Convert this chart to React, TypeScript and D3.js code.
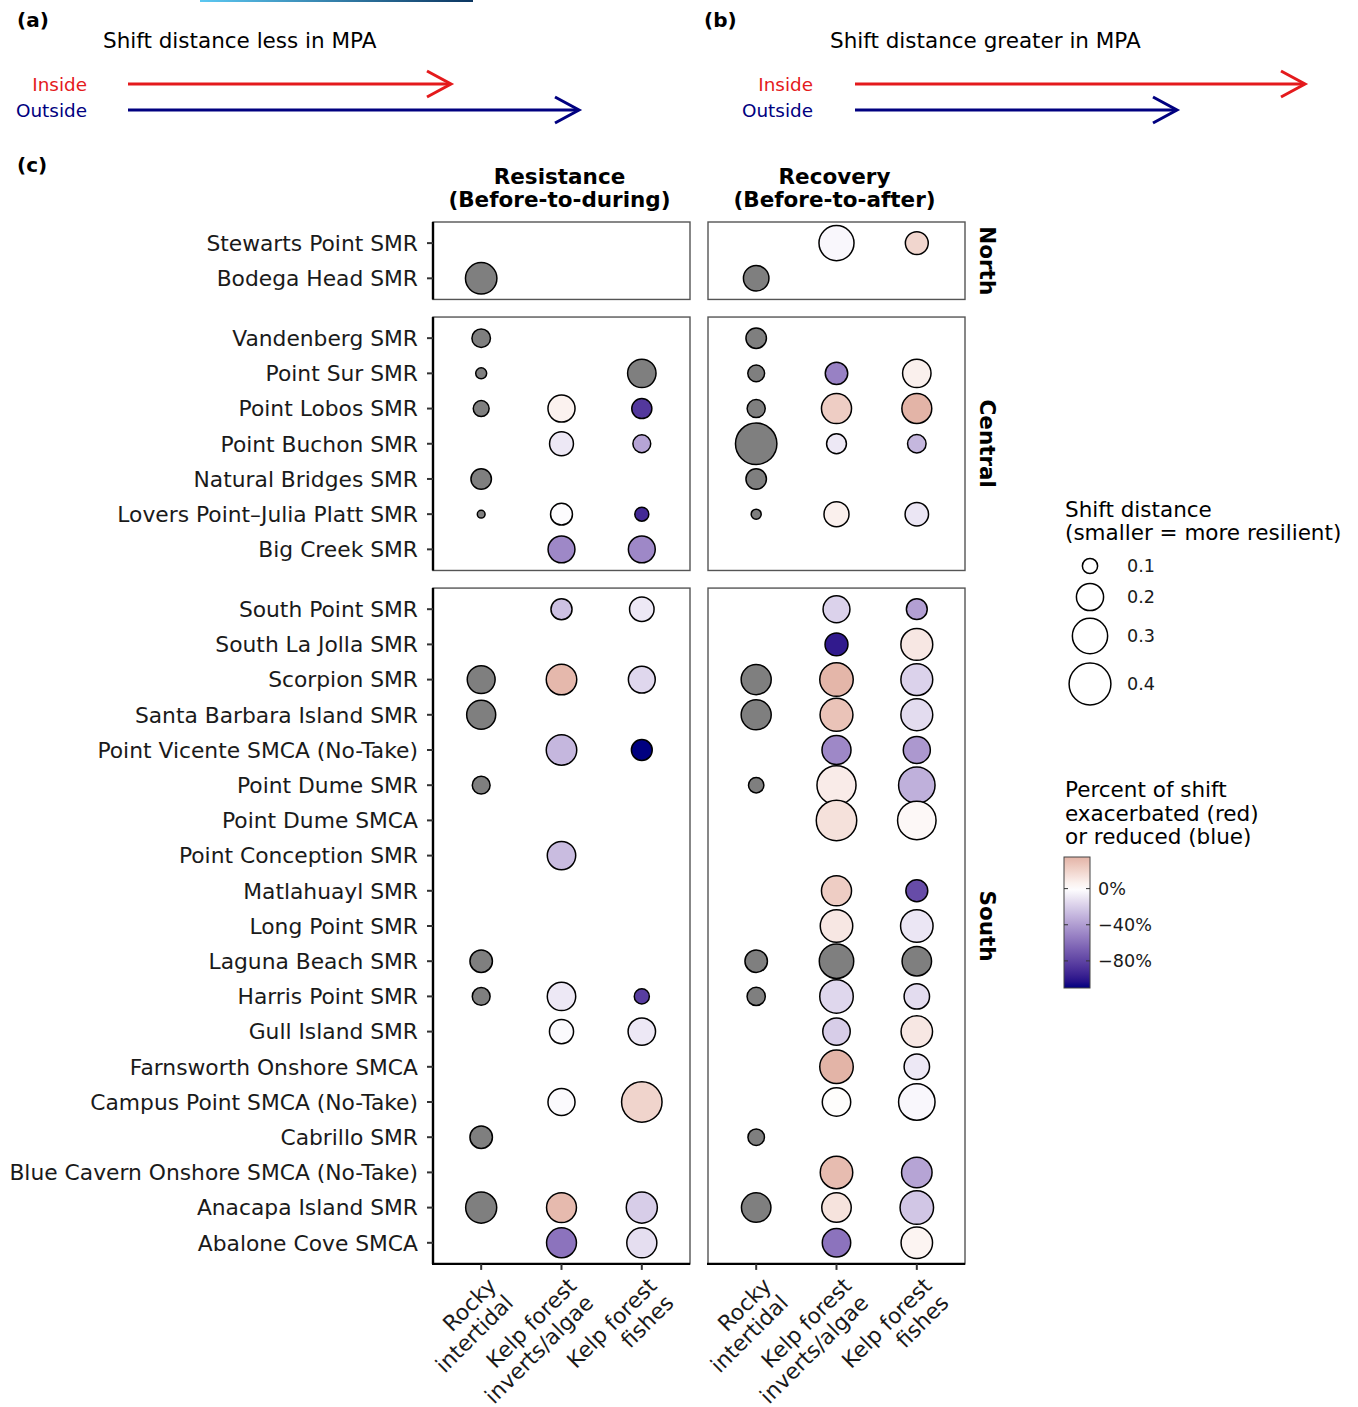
import React from 'react';
import * as d3 from 'd3';

// ---------------- DATA ----------------
const sites = [
  'Stewarts Point SMR', 'Bodega Head SMR',
  'Vandenberg SMR', 'Point Sur SMR', 'Point Lobos SMR', 'Point Buchon SMR', 'Natural Bridges SMR', 'Lovers Point\u2013Julia Platt SMR', 'Big Creek SMR',
  'South Point SMR', 'South La Jolla SMR', 'Scorpion SMR', 'Santa Barbara Island SMR', 'Point Vicente SMCA (No-Take)', 'Point Dume SMR', 'Point Dume SMCA', 'Point Conception SMR', 'Matlahuayl SMR', 'Long Point SMR', 'Laguna Beach SMR', 'Harris Point SMR', 'Gull Island SMR', 'Farnsworth Onshore SMCA', 'Campus Point SMCA (No-Take)', 'Cabrillo SMR', 'Blue Cavern Onshore SMCA (No-Take)', 'Anacapa Island SMR', 'Abalone Cove SMCA',
];
const regions = ['North', 'Central', 'South'];
const regionCounts = [2, 7, 19];
const habitats = ['Rocky|intertidal', 'Kelp forest|inverts/algae', 'Kelp forest|fishes'];
const periods = ['Resistance|(Before-to-during)', 'Recovery|(Before-to-after)'];

const N = null;
// Shift distance per site (null = not sampled); percent change (null = not available, grey)
const resRockyDist = [N, 0.25, 0.122, 0.078, 0.104, N, 0.137, 0.066, N, N, N, 0.208, 0.221, N, 0.117, N, N, N, N, 0.154, 0.117, N, N, N, 0.154, N, 0.245, N];
const resRockyPct = [N, N, N, N, N, N, N, N, N, N, N, N, N, N, N, N, N, N, N, N, N, N, N, N, N, N, N, N];
const resKelpDist = [N, N, N, N, 0.199, 0.167, N, 0.149, 0.197, 0.142, N, 0.238, N, 0.238, N, N, 0.214, N, N, N, 0.214, 0.169, N, 0.199, N, N, 0.231, 0.231];
const resKelpPct = [N, N, N, N, 6, -9, N, -1, -49, -25, N, 33, N, -29, N, N, -27, N, N, N, -9, -2, N, -2, N, N, 32, -58];
const resFishDist = [N, N, N, 0.214, 0.134, 0.117, N, 0.093, 0.197, 0.173, N, 0.197, N, 0.14, N, N, N, N, N, N, 0.099, 0.203, N, 0.378, N, N, 0.245, 0.233];
const resFishPct = [N, N, N, N, -85, -37, N, -92, -49, -9, N, -16, N, -110, N, N, N, N, N, N, -83, -9, N, 20, N, N, -20, -13];

const recRockyDist = [N, 0.183, 0.137, 0.11, 0.119, 0.394, 0.137, 0.074, N, N, N, 0.233, 0.233, N, 0.101, N, N, N, N, 0.154, 0.12, N, N, N, 0.108, N, 0.226, N];
const recRockyPct = [N, N, N, N, N, N, N, N, N, N, N, N, N, N, N, N, N, N, N, N, N, N, N, N, N, N, N, N];
const recKelpDist = [0.297, N, N, 0.154, 0.233, 0.132, N, 0.178, N, 0.197, 0.158, 0.276, 0.268, 0.221, 0.356, 0.378, N, 0.233, 0.263, 0.289, 0.276, 0.203, 0.276, 0.214, N, 0.263, 0.226, 0.214];
const recKelpPct = [-3, N, N, -52, 23, -9, N, 7, N, -18, -99, 34, 28, -49, 9, 14, N, 23, 11, N, -16, -20, 35, 1, N, 31, 13, -58];
const recFishDist = [0.158, N, N, 0.214, 0.231, 0.122, N, 0.163, N, 0.14, 0.255, 0.255, 0.255, 0.199, 0.317, 0.347, N, 0.149, 0.263, 0.226, 0.182, 0.25, 0.182, 0.317, N, 0.238, 0.276, 0.25];
const recFishPct = [19, N, N, 7, 35, -29, N, -10, N, -39, 11, -18, -14, -42, -32, 3, N, -76, -10, N, -14, 11, -9, -3, N, -37, -23, 5];

const sizeBreaks = [0.1, 0.2, 0.3, 0.4];
const pctBreaks = [0, -40, -80];
const pctLimits = [-110, 35];

// ---------------- SCALES ----------------
const areaScale = d3.scaleLinear().domain([0.1, 0.4]).range([58, 437]);
const rad = (v: number) => Math.sqrt(Math.max(4, areaScale(v)));
const colorScale = d3.scaleLinear<string>()
  .domain([-110, 0, 110])
  .range(['#000080', '#ffffff', '#8b0000'])
  .interpolate(d3.interpolateLab);
const fillFor = (p: number | null) => (p == null ? '#7f7f7f' : colorScale(p));

const FONT = 'DejaVu Sans';
const FS = 21.5;
const FSY = 21.8;

const step = 35.2;
const gap = 17.6;
const top0 = 222;
const panelX = [433, 708];
const panelW = 257;

export default function App() {
  const facets: { name: string; top: number; bottom: number; y: d3.ScalePoint<string> }[] = [];
  let cur = top0;
  let idx = 0;
  regions.forEach((r, i) => {
    const n = regionCounts[i];
    const h = (n - 1 + 1.2) * step;
    const dom = sites.slice(idx, idx + n);
    const y = d3.scalePoint<string>().domain(dom).range([cur, cur + h]).padding(0.6);
    facets.push({ name: r, top: cur, bottom: cur + h, y });
    cur += h + gap;
    idx += n;
  });
  const yOf = (site: string) => {
    for (const f of facets) { const v = f.y(site); if (v !== undefined) return v; }
    return 0;
  };
  const bottomY = facets[2].bottom;

  const xScales = panelX.map((x0) => d3.scalePoint<string>().domain(habitats).range([x0, x0 + panelW]).padding(0.6));

  const series = [
    [[resRockyDist, resRockyPct], [resKelpDist, resKelpPct], [resFishDist, resFishPct]],
    [[recRockyDist, recRockyPct], [recKelpDist, recKelpPct], [recFishDist, recFishPct]],
  ];

  const gradStops = d3.range(0, 21).map((i) => {
    const p = pctLimits[1] - (i / 20) * (pctLimits[1] - pctLimits[0]);
    return { off: i / 20, col: colorScale(p) };
  });
  const cbTop = 857, cbBot = 988, cbX = 1064, cbW = 26;
  const cbY = d3.scaleLinear().domain([pctLimits[1], pctLimits[0]]).range([cbTop, cbBot]);

  const legendY = [566, 597, 636, 684];

  const arrow = (x1: number, x2: number, y: number, col: string, key: string) => (
    <g key={key} stroke={col} strokeWidth={3} fill="none">
      <line x1={x1} x2={x2 - 1} y1={y} y2={y} />
      <polyline points={`${x2 - 24},${y - 13} ${x2},${y} ${x2 - 24},${y + 13}`} />
    </g>
  );

  return (
    <svg width={1358} height={1407} style={{ position: 'absolute', left: 0, top: 0, background: '#fff' }} fontFamily={FONT}>
      <defs>
        <linearGradient id="topline" x1="0" x2="1" y1="0" y2="0">
          <stop offset="0" stopColor="#5cc8f2" />
          <stop offset="1" stopColor="#0b3560" />
        </linearGradient>
        <linearGradient id="cbar" x1="0" x2="0" y1="0" y2="1">
          {gradStops.map((s, i) => <stop key={i} offset={s.off} stopColor={s.col} />)}
        </linearGradient>
      </defs>
      <rect x={200} y={0} width={273} height={2} fill="url(#topline)" />

      {/* (a) and (b) */}
      <text x={17} y={27} fontSize={20} fontWeight="bold">(a)</text>
      <text x={103} y={48} fontSize={FS}>Shift distance less in MPA</text>
      <text x={87} y={91} fontSize={18.4} textAnchor="end" fill="#e41a1c">Inside</text>
      <text x={87} y={117} fontSize={18.4} textAnchor="end" fill="#000080">Outside</text>
      {arrow(128, 451, 84, '#e41a1c', 'a1')}
      {arrow(128, 579, 110, '#000080', 'a2')}

      <text x={704} y={27} fontSize={20} fontWeight="bold">(b)</text>
      <text x={830} y={48} fontSize={FS}>Shift distance greater in MPA</text>
      <text x={813} y={91} fontSize={18.4} textAnchor="end" fill="#e41a1c">Inside</text>
      <text x={813} y={117} fontSize={18.4} textAnchor="end" fill="#000080">Outside</text>
      {arrow(855, 1305, 84, '#e41a1c', 'b1')}
      {arrow(855, 1177, 110, '#000080', 'b2')}

      <text x={17} y={172} fontSize={20} fontWeight="bold">(c)</text>

      {/* column titles */}
      {periods.map((p, i) => {
        const [l1, l2] = p.split('|');
        const cx = panelX[i] + panelW / 2 - 2;
        return (
          <text key={p} x={cx} textAnchor="middle" fontSize={FS} fontWeight="bold">
            <tspan x={cx} y={184}>{l1}</tspan>
            <tspan x={cx} y={207}>{l2}</tspan>
          </text>
        );
      })}

      {/* panels */}
      {facets.map((f) => (
        <g key={f.name}>
          {panelX.map((x0, pi) => (
            <rect key={pi} x={x0} y={f.top} width={panelW} height={f.bottom - f.top} fill="#fff" stroke="#555" strokeWidth={1.4} />
          ))}
          <line x1={panelX[0]} x2={panelX[0]} y1={f.top} y2={f.bottom} stroke="#000" strokeWidth={2.4} />
          <text transform={`translate(${988},${(f.top + f.bottom) / 2}) rotate(90)`} textAnchor="middle" dy="0.36em" fontSize={FS} fontWeight="bold">{f.name}</text>
        </g>
      ))}
      {panelX.map((x0) => (
        <line key={x0} x1={x0 - 1} x2={x0 + panelW} y1={bottomY} y2={bottomY} stroke="#000" strokeWidth={2.4} />
      ))}

      {/* y ticks + labels */}
      {sites.map((s) => {
        const y = yOf(s);
        return (
          <g key={s}>
            <line x1={427} x2={433} y1={y} y2={y} stroke="#333" strokeWidth={2} />
            <text x={418} y={y} dy="0.36em" textAnchor="end" fontSize={FSY} fill="#1a1a1a">{s}</text>
          </g>
        );
      })}

      {/* x ticks + labels */}
      {xScales.map((xs, pi) => habitats.map((h) => {
        const x = xs(h) as number;
        const [l1, l2] = h.split('|');
        return (
          <g key={pi + h}>
            <line x1={x} x2={x} y1={bottomY} y2={bottomY + 6} stroke="#333" strokeWidth={2} />
            <text transform={`translate(${x + 5},${bottomY + 12}) rotate(-45)`} textAnchor="end" fontSize={FSY} fill="#1a1a1a">
              <tspan x={0} y={16}>{l1}</tspan>
              <tspan x={0} y={40}>{l2}</tspan>
            </text>
          </g>
        );
      }))}

      {/* points */}
      {series.map((hab, pi) => hab.map(([dist, pct], hi) => sites.map((s, si) => {
        const d = dist[si];
        if (d == null) return null;
        return (
          <circle key={`${pi}-${hi}-${si}`} cx={xScales[pi](habitats[hi]) as number} cy={yOf(s)} r={rad(d)}
            fill={fillFor(pct[si])} stroke="#000" strokeWidth={1.5} />
        );
      })))}

      {/* size legend */}
      <text fontSize={FS}>
        <tspan x={1065} y={517}>Shift distance</tspan>
        <tspan x={1065} y={540}>(smaller = more resilient)</tspan>
      </text>
      {sizeBreaks.map((b, i) => (
        <g key={b}>
          <circle cx={1090} cy={legendY[i]} r={rad(b)} fill="#fff" stroke="#000" strokeWidth={1.5} />
          <text x={1127} y={legendY[i]} dy="0.36em" fontSize={17.6} fill="#1a1a1a">{b.toFixed(1)}</text>
        </g>
      ))}

      {/* colour legend */}
      <text fontSize={FS}>
        <tspan x={1065} y={797}>Percent of shift</tspan>
        <tspan x={1065} y={821}>exacerbated (red)</tspan>
        <tspan x={1065} y={844}>or reduced (blue)</tspan>
      </text>
      <rect x={cbX} y={cbTop} width={cbW} height={cbBot - cbTop} fill="url(#cbar)" stroke="#444" strokeWidth={1} />
      {pctBreaks.map((b) => {
        const y = cbY(b);
        return (
          <g key={b}>
            <line x1={cbX} x2={cbX + 4} y1={y} y2={y} stroke="#333" strokeWidth={1} />
            <line x1={cbX + cbW - 4} x2={cbX + cbW} y1={y} y2={y} stroke="#333" strokeWidth={1} />
            <text x={1098} y={y} dy="0.36em" fontSize={17.6} fill="#1a1a1a">{b === 0 ? '0%' : `\u2212${Math.abs(b)}%`}</text>
          </g>
        );
      })}
    </svg>
  );
}
